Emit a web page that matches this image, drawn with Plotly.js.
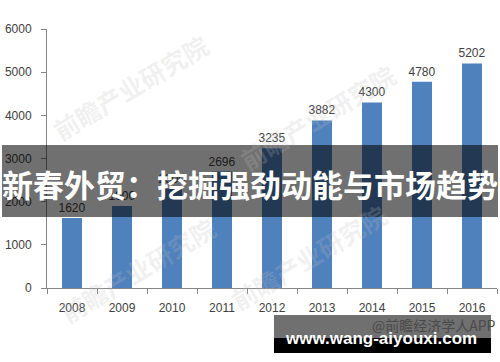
<!DOCTYPE html>
<html>
<head>
<meta charset="utf-8">
<script src="https://cdn.plot.ly/plotly-3.0.1.min.js"></script>
<style>
  html, body { margin: 0; padding: 0; background: #ffffff; }
  #chart { width: 500px; height: 362px; }
</style>
</head>
<body>
<div id="chart"></div>
<script>
// Yearly values, 2008–2016
const years = ['2008', '2009', '2010', '2011', '2012', '2013', '2014', '2015', '2016'];
const values = [1620, 1900, 2300, 2696, 3235, 3882, 4300, 4780, 5202];
const yTicks = [0, 1000, 2000, 3000, 4000, 5000, 6000];

// Overlay texts
const bannerText = '新春外贸：挖掘强劲动能与市场趋势';
const siteText = 'www.wang-aiyouxi.com';
const sourceText = '@前瞻经济学人APP';
const markText = '前瞻产业研究院';

const axisColor = '#868686';
const labelColor = '#404040';
const baseFont = 'Liberation Sans, Arial, sans-serif';
const cjkFont = 'Noto Sans CJK SC, sans-serif';

const trace = {
  type: 'bar',
  x: years,
  y: values,
  text: values.map(String),
  textposition: 'outside',
  constraintext: 'none',
  cliponaxis: false,
  textfont: { family: baseFont, size: 12, color: labelColor },
  marker: { color: '#4f81bd', line: { width: 0 } },
  hoverinfo: 'skip'
};

// plain centred text placed in paper coordinates
function note(x, y, text, font, angle) {
  return {
    xref: 'paper', yref: 'paper', x: x, y: y,
    xanchor: 'center', yanchor: 'middle',
    text: text, showarrow: false, textangle: angle || 0, font: font
  };
}

// faint diagonal watermarks
function mark(x, y) {
  return note(x, y, markText,
    { family: cjkFont, size: 25, color: 'rgba(190,190,190,0.22)', weight: 700 }, -31);
}

const layout = {
  width: 500,
  height: 362,
  margin: { l: 47, r: 3, t: 29, b: 74 },
  paper_bgcolor: '#ffffff',
  plot_bgcolor: '#ffffff',
  showlegend: false,
  bargap: 0.6,
  xaxis: {
    type: 'category',
    showline: true, linecolor: axisColor, linewidth: 1,
    ticks: 'outside', tickson: 'boundaries', ticklen: 5, tickcolor: axisColor,
    showgrid: false, zeroline: false,
    tickfont: { family: baseFont, size: 12, color: labelColor },
    ticklabelstandoff: 9
  },
  yaxis: {
    range: [0, 6000],
    tickvals: yTicks,
    ticktext: yTicks.map(String),
    showline: true, linecolor: axisColor, linewidth: 1,
    ticks: 'outside', ticklen: 5, tickcolor: axisColor,
    showgrid: false, zeroline: false,
    tickfont: { family: baseFont, size: 12, color: labelColor },
    ticklabelstandoff: 7
  },
  shapes: [
    // headline band across the middle
    { type: 'rect', xref: 'paper', yref: 'paper', layer: 'above',
      x0: -0.1, x1: 1.0022, y0: 0.274, y1: 0.552,
      fillcolor: 'rgba(0,0,0,0.56)', line: { width: 0 } },
    // site box, bottom right
    { type: 'rect', xref: 'paper', yref: 'paper', layer: 'above',
      x0: 0.5044, x1: 0.9867, y0: -0.1931, y1: -0.1042,
      fillcolor: 'rgba(0,0,0,0.56)', line: { width: 0 } },
    { type: 'rect', xref: 'paper', yref: 'paper', layer: 'above',
      x0: 0.5044, x1: 0.9867, y0: -0.251, y1: -0.1931,
      fillcolor: '#000000', line: { width: 0 } }
  ],
  annotations: [
    mark(0.185, 0.775),
    mark(0.2, 0.07),
    mark(0.6, 0.66),
    mark(0.58, 0.12),
    note(0.861, -0.143, sourceText,
      { family: cjkFont, size: 14, color: '#4a4a4a' }),
    note(0.742, -0.195, siteText,
      { family: baseFont, size: 17, color: '#ffffff', weight: 700 }),
    note(0.451, 0.405, bannerText,
      { family: cjkFont, size: 31, color: '#ffffff', weight: 700 })
  ]
};

Plotly.newPlot('chart', [trace], layout, { displayModeBar: false, staticPlot: true });
</script>
</body>
</html>
